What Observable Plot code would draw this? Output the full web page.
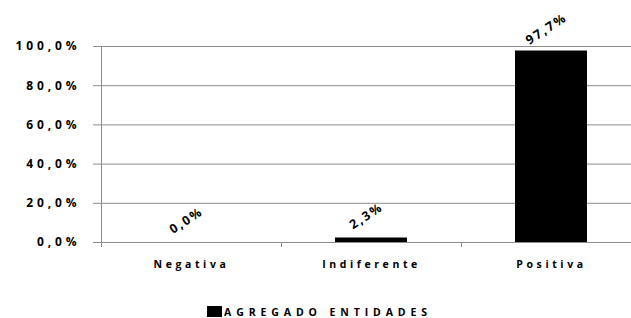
<!DOCTYPE html>
<html><head><meta charset="utf-8">
<script src="https://cdn.jsdelivr.net/npm/d3@7"></script>
<script src="https://cdn.jsdelivr.net/npm/@observablehq/plot@0.6"></script>
<style>
html,body{margin:0;padding:0;background:#fff;overflow:hidden;}
#chart{width:631px;height:318px;overflow:hidden;}
.yax text{letter-spacing:3.9px;}
.xax text{letter-spacing:3.6px;}
.vals text{letter-spacing:2px;}
#legend{display:flex;align-items:center;margin-left:207px;margin-top:5px;height:23px;font-family:"Open Sans",sans-serif;font-weight:bold;font-size:10.5px;letter-spacing:4.9px;color:#000;}
#legend .sw{width:15px;height:11px;background:#000;margin-right:2px;}
</style>
</head><body>
<div id="chart"></div>
<script>
const categories = ["Negativa", "Indiferente", "Positiva"];
const values = [0.0, 2.3, 97.7];
const valueLabels = ["0,0%", "2,3%", "97,7%"];
const yTicks = [0, 20, 40, 60, 80, 100];
const yTickLabels = ["0,0%", "20,0%", "40,0%", "60,0%", "80,0%", "100,0%"];
const seriesName = "AGREGADO ENTIDADES";

const data = categories.map((c, i) => ({cat: c, value: values[i], label: valueLabels[i]}));
const gridColor = "#8c8c8c";

const plot = Plot.plot({
  width: 631,
  height: 295,
  marginTop: 46,
  marginBottom: 53,
  marginLeft: 100,
  marginRight: -10,
  style: {fontFamily: "'Open Sans', sans-serif", background: "#fff", overflow: "visible"},
  x: {domain: categories, paddingInner: 0.6, paddingOuter: 0.3, axis: null},
  y: {domain: [0, 100], axis: null},
  marks: [
    Plot.ruleY(yTicks, {stroke: gridColor, strokeWidth: 1}),
    Plot.barY(data, {x: "cat", y: "value", fill: "#000"}),
    Plot.axisY({ticks: yTicks, tickFormat: d => yTickLabels[yTicks.indexOf(d)], tickSize: 7, tickPadding: 13,
      stroke: gridColor, fill: "#000", fontSize: 12, fontWeight: "bold", label: null, className: "yax"}),
    Plot.axisX({tickSize: 0, tickPadding: 18, fill: "#000", fontSize: 10.5, fontWeight: "bold", label: null, className: "xax"}),
    Plot.text(data, {x: "cat", y: "value", text: "label", rotate: -33, dx: -5, dy: -22,
      textAnchor: "middle", lineAnchor: "middle", fontSize: 12.5, fontWeight: "bold", fill: "#000", className: "vals"})
  ]
});

// Axis line and category boundary ticks, positioned through the plot's own scales
const xs = plot.scale("x"), ys = plot.scale("y");
const gap = xs.step - xs.bandwidth;
const bounds = categories.map(c => xs.apply(c) - gap / 2)
  .concat([xs.apply(categories[categories.length - 1]) + xs.bandwidth + gap / 2]);
const y0 = ys.apply(0), yTop = ys.apply(100);
const g = d3.select(plot).append("g").attr("stroke", gridColor).attr("stroke-width", 1);
g.append("line").attr("x1", bounds[0] + 0.5).attr("x2", bounds[0] + 0.5).attr("y1", yTop).attr("y2", y0 + 5);
bounds.slice(1).forEach(b => {
  g.append("line").attr("x1", b + 0.5).attr("x2", b + 0.5).attr("y1", y0).attr("y2", y0 + 5);
});

const chart = document.getElementById("chart");
chart.appendChild(plot);
const legend = document.createElement("div");
legend.id = "legend";
legend.innerHTML = '<div class="sw"></div><span></span>';
legend.querySelector("span").textContent = seriesName;
chart.appendChild(legend);
</script>
</body></html>
